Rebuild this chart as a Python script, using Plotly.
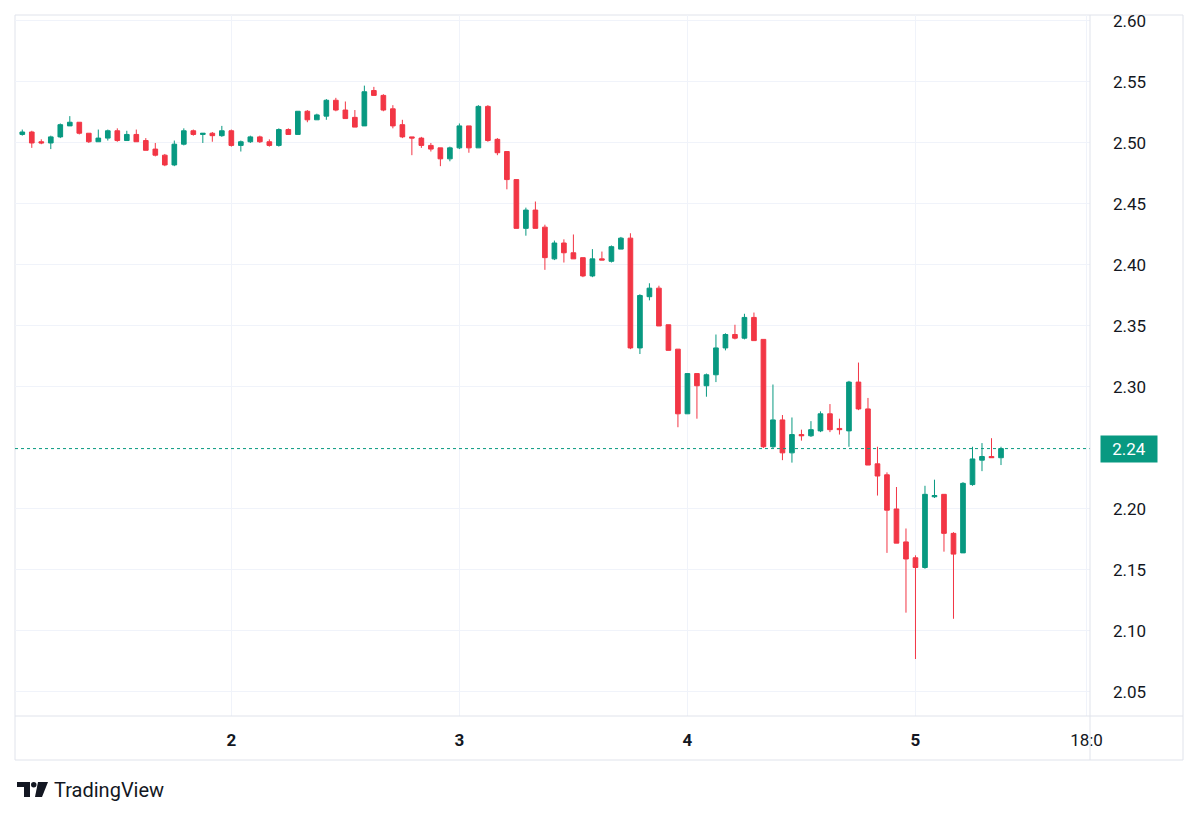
import datetime as dt
import math
import plotly.graph_objects as go

# ---------------- data (hourly candles) ----------------
start_time = dt.datetime(2025, 5, 1, 2, 0)
n_candles = 104

open_ = [2.507, 2.509, 2.501, 2.500, 2.505, 2.514, 2.517, 2.508, 2.501, 2.504,
         2.510, 2.502, 2.507, 2.502, 2.495, 2.490, 2.482, 2.499, 2.510, 2.507,
         2.508, 2.506, 2.510, 2.498, 2.501, 2.505, 2.501, 2.498, 2.511, 2.507,
         2.526, 2.519, 2.522, 2.535, 2.527, 2.521, 2.514, 2.543, 2.539, 2.528,
         2.515, 2.505, 2.504, 2.498, 2.496, 2.487, 2.496, 2.514, 2.496, 2.530,
         2.503, 2.493, 2.470, 2.430, 2.445, 2.431, 2.405, 2.418, 2.410, 2.406,
         2.391, 2.405, 2.403, 2.413, 2.422, 2.332, 2.374, 2.381, 2.351, 2.331,
         2.278, 2.311, 2.301, 2.310, 2.332, 2.343, 2.340, 2.357, 2.339, 2.251,
         2.273, 2.246, 2.261, 2.260, 2.264, 2.278, 2.266, 2.264, 2.304, 2.282,
         2.237, 2.228, 2.200, 2.173, 2.160, 2.152, 2.210, 2.212, 2.180, 2.164,
         2.220, 2.240, 2.243, 2.242]
high = [2.511, 2.510, 2.503, 2.506, 2.516, 2.522, 2.517, 2.508, 2.511, 2.511,
        2.512, 2.510, 2.511, 2.504, 2.500, 2.491, 2.502, 2.512, 2.511, 2.508,
        2.509, 2.514, 2.511, 2.502, 2.506, 2.506, 2.503, 2.512, 2.512, 2.526,
        2.527, 2.524, 2.536, 2.537, 2.534, 2.527, 2.547, 2.546, 2.540, 2.531,
        2.519, 2.505, 2.505, 2.500, 2.496, 2.497, 2.516, 2.514, 2.531, 2.531,
        2.504, 2.493, 2.470, 2.447, 2.452, 2.433, 2.420, 2.421, 2.425, 2.406,
        2.413, 2.411, 2.416, 2.423, 2.426, 2.376, 2.385, 2.383, 2.351, 2.331,
        2.311, 2.311, 2.311, 2.343, 2.344, 2.351, 2.360, 2.361, 2.339, 2.302,
        2.277, 2.275, 2.265, 2.272, 2.280, 2.286, 2.274, 2.305, 2.320, 2.291,
        2.251, 2.230, 2.218, 2.184, 2.162, 2.219, 2.224, 2.212, 2.181, 2.222,
        2.251, 2.254, 2.258, 2.251]
low = [2.506, 2.496, 2.499, 2.495, 2.504, 2.514, 2.507, 2.500, 2.501, 2.502,
       2.501, 2.502, 2.501, 2.494, 2.489, 2.481, 2.481, 2.498, 2.506, 2.500,
       2.501, 2.505, 2.497, 2.493, 2.500, 2.500, 2.497, 2.497, 2.507, 2.507,
       2.517, 2.519, 2.519, 2.526, 2.520, 2.513, 2.514, 2.539, 2.526, 2.512,
       2.504, 2.490, 2.496, 2.493, 2.481, 2.485, 2.495, 2.492, 2.496, 2.501,
       2.490, 2.462, 2.430, 2.424, 2.430, 2.396, 2.404, 2.402, 2.405, 2.390,
       2.390, 2.404, 2.402, 2.413, 2.331, 2.327, 2.371, 2.350, 2.330, 2.267,
       2.278, 2.274, 2.292, 2.304, 2.330, 2.339, 2.339, 2.338, 2.250, 2.250,
       2.240, 2.238, 2.256, 2.259, 2.263, 2.263, 2.261, 2.251, 2.281, 2.236,
       2.211, 2.164, 2.172, 2.115, 2.077, 2.151, 2.209, 2.165, 2.110, 2.164,
       2.219, 2.231, 2.242, 2.236]
close = [2.509, 2.500, 2.500, 2.505, 2.515, 2.517, 2.508, 2.501, 2.504, 2.510,
         2.502, 2.507, 2.501, 2.494, 2.490, 2.482, 2.499, 2.510, 2.507, 2.508,
         2.506, 2.510, 2.498, 2.501, 2.505, 2.501, 2.498, 2.511, 2.507, 2.526,
         2.519, 2.523, 2.535, 2.527, 2.520, 2.513, 2.542, 2.539, 2.527, 2.514,
         2.505, 2.504, 2.498, 2.495, 2.487, 2.496, 2.514, 2.496, 2.530, 2.502,
         2.492, 2.470, 2.430, 2.445, 2.430, 2.406, 2.418, 2.410, 2.405, 2.391,
         2.405, 2.404, 2.415, 2.422, 2.332, 2.375, 2.381, 2.350, 2.330, 2.278,
         2.311, 2.301, 2.310, 2.332, 2.343, 2.340, 2.357, 2.338, 2.251, 2.273,
         2.246, 2.261, 2.260, 2.265, 2.278, 2.265, 2.265, 2.304, 2.282, 2.236,
         2.227, 2.199, 2.172, 2.159, 2.152, 2.212, 2.211, 2.180, 2.163, 2.221,
         2.241, 2.243, 2.242, 2.2495]

price_ticks = [2.05, 2.10, 2.15, 2.20, 2.30, 2.35, 2.40, 2.45, 2.50, 2.55, 2.60]
time_ticks = [dt.datetime(2025, 5, 2), dt.datetime(2025, 5, 3), dt.datetime(2025, 5, 4),
              dt.datetime(2025, 5, 5), dt.datetime(2025, 5, 5, 18)]
time_tick_text = ["<b>2</b>", "<b>3</b>", "<b>4</b>", "<b>5</b>", "18:0"]

times = [start_time + dt.timedelta(hours=i) for i in range(n_candles)]

GREEN = "#089981"
RED = "#F23645"
GRID = "#f0f3fa"
BORDER = "#e0e3eb"
TEXT = "#131722"
FONT = "Roboto"

fig = go.Figure()
fig.add_trace(go.Candlestick(
    x=times, open=open_, high=high, low=low, close=close,
    increasing=dict(line=dict(color=GREEN, width=1), fillcolor=GREEN),
    decreasing=dict(line=dict(color=RED, width=1), fillcolor=RED),
    whiskerwidth=0, hoverinfo="x+y", showlegend=False,
))

last = close[-1]
last_label = f"{math.floor(last * 100) / 100:.2f}"

# plot area in pixels: x 15..1090, y 15..716
L, R, T, B = 15, 1090, 15, 716
W, H = R - L, B - T


def px(x):
    return (x - L) / W


def py(y):
    return (B - y) / H


shapes = [
    # last price dotted line
    dict(type="line", xref="paper", yref="y", x0=0, x1=1, y0=last, y1=last,
         line=dict(color=GREEN, width=1, dash="dot"), layer="above"),
    # frame
    dict(type="rect", xref="paper", yref="paper", x0=px(15), x1=px(1183), y0=py(15), y1=py(760),
         line=dict(color=BORDER, width=1), layer="below"),
    dict(type="line", xref="paper", yref="paper", x0=px(15), x1=px(1183), y0=py(716), y1=py(716),
         line=dict(color=BORDER, width=1)),
    dict(type="line", xref="paper", yref="paper", x0=px(1090), x1=px(1090), y0=py(15), y1=py(760),
         line=dict(color=BORDER, width=1)),
]


def poly(points, color):
    d = "M " + " L ".join(f"{px(a):.5f},{py(b):.5f}" for a, b in points) + " Z"
    return dict(type="path", xref="paper", yref="paper", path=d,
                fillcolor=color, line=dict(width=0))


# TradingView logo glyph
shapes.append(poly([(17, 782), (30, 782), (30, 797), (24, 797), (24, 787), (17, 787)], TEXT))
shapes.append(dict(type="circle", xref="paper", yref="paper",
                   x0=px(31), x1=px(36.5), y0=py(782), y1=py(787.5),
                   fillcolor=TEXT, line=dict(width=0)))
shapes.append(poly([(38, 782), (48, 782), (42, 797), (35, 797)], TEXT))

annotations = [
    dict(xref="paper", yref="y", x=px(1129), y=last, text=last_label, showarrow=False,
         font=dict(family=FONT, size=17, color="white"), bgcolor=GREEN,
         borderpad=3, width=50, xanchor="center", yanchor="middle"),
    dict(xref="paper", yref="paper", x=px(52), y=py(790), text="TradingView", showarrow=False,
         font=dict(family=FONT, size=20, color=TEXT), xanchor="left", yanchor="middle"),
]

fig.update_layout(
    width=1200, height=817,
    margin=dict(l=L, r=1200 - R, t=T, b=817 - B),
    paper_bgcolor="white", plot_bgcolor="white",
    font=dict(family=FONT, size=17, color=TEXT),
    shapes=shapes, annotations=annotations,
    showlegend=False,
    xaxis=dict(
        range=[dt.datetime(2025, 5, 1, 1, 14), dt.datetime(2025, 5, 5, 18, 22)],
        tickvals=time_ticks, ticktext=time_tick_text,
        showgrid=True, gridcolor=GRID, gridwidth=1,
        zeroline=False, showline=False, ticks="",
        rangeslider=dict(visible=False),
        tickfont=dict(family=FONT, size=17, color=TEXT),
        ticklabelstandoff=12,
    ),
    yaxis=dict(
        side="right", range=[2.0303, 2.6049],
        tickvals=price_ticks, ticktext=[f"{v:.2f}" for v in price_ticks],
        showgrid=True, gridcolor=GRID, gridwidth=1,
        zeroline=False, showline=False, ticks="",
        tickfont=dict(family=FONT, size=17, color=TEXT),
        ticklabelstandoff=22,
    ),
)

fig.write_html("out.html")
